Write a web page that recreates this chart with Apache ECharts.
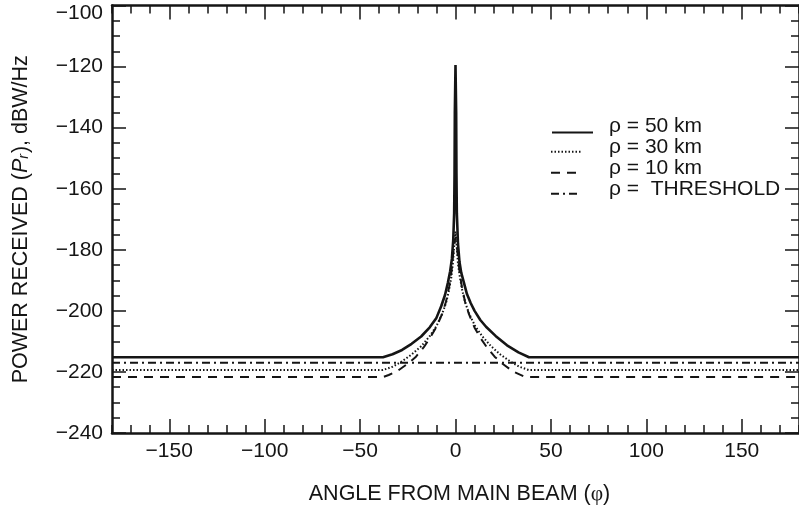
<!DOCTYPE html>
<html>
<head>
<meta charset="utf-8">
<script src="https://cdn.jsdelivr.net/npm/echarts@6/dist/echarts.min.js"></script>
<style>html,body{margin:0;padding:0;background:#fff;}#c{width:799px;height:510px;}</style>
</head>
<body>
<div id="c"></div>
<script>
// ---- data ----
const xTicksMajor = [-150, -100, -50, 0, 50, 100, 150];

const names = ['ρ = 50 km', 'ρ = 30 km', 'ρ = 10 km', 'ρ =  THRESHOLD'];

const angle50 = [-180, -38, -33, -28, -23, -18, -13.5, -10, -7.5, -5.5, -4, -2.8, -1.9, -1.2, -0.7, -0.5, -0.35, 0,
                 0.35, 0.5, 0.7, 1.3, 2.1, 3, 4.3, 6, 8, 10, 13, 16, 21, 27, 33, 38.5, 180];
const power50 = [-215.2, -215.2, -214.2, -212.8, -210.8, -208.4, -205.4, -202.3, -198.5, -194.8, -190.8, -187, -183, -177, -168, -155, -135, -119.5,
                 -135, -155, -168, -178, -184, -187.5, -190.5, -194.5, -197.5, -200, -203, -205.2, -208.2, -211.3, -213.6, -215.2, -215.2];

const angle30 = [-180, -38, -33, -28, -23, -18, -13.5, -10, -7, -5, -3.5, -2.2, -1.3, -0.6, 0,
                 0.6, 1.3, 2.3, 3.6, 5.2, 7.2, 10.3, 14, 18.5, 23.5, 28.5, 33.5, 38.5, 180];
const power30 = [-219.4, -219.4, -218.3, -216.5, -214.3, -211.6, -208.3, -205, -201, -197.5, -193.5, -189, -184, -178, -174,
                 -178.5, -184.5, -189, -193.5, -197.5, -201, -205, -208.3, -211.5, -214.3, -216.5, -218.3, -219.4, -219.4];

const angle10 = [-180, -38, -35, -30, -25, -21, -16.5, -13, -10, -7, -5, -3.3, -2, -1, 0,
                 1, 2, 3.3, 5, 7, 10, 13, 16.5, 20.5, 25, 30, 36, 38, 180];
const power10 = [-221.7, -221.7, -221, -219.5, -217.3, -215.2, -211.8, -208.5, -205.3, -201, -197, -192, -186.5, -180, -176,
                 -180.5, -186.5, -192, -197, -201, -205.5, -208.8, -212, -215, -217.5, -219.8, -221.5, -221.7, -221.7];

const angleThr = [-180, 180];
const powerThr = [-217, -217];

// ---- chart ----
const FONT = 'Liberation Sans, Arial, Helvetica, sans-serif';
const INK = '#151515';
const pairs = (xs, ys) => xs.map((x, i) => [x, ys[i]]);
const minus = v => String(v).replace('-', '\u2212');

const baseX = {
  type: 'value', min: -180, max: 180, gridIndex: 0,
  splitLine: { show: false },
  axisLine: { onZero: false, show: false }
};
const baseY = {
  type: 'value', min: -240, max: -100, interval: 20,
  splitLine: { show: false },
  axisLine: { onZero: false, show: true, lineStyle: { color: INK, width: 2.5 } },
  axisTick: { show: true, inside: true, length: 14, lineStyle: { color: INK, width: 1.5 } },
  minorTick: { show: true, splitNumber: 4, length: 8, lineStyle: { color: INK, width: 1.5 } }
};

const lineSeries = (name, data, width, type, z) => ({
  name, type: 'line', data, xAxisIndex: 0, yAxisIndex: 0,
  symbol: 'none', showSymbol: false, z,
  lineStyle: { color: INK, width, type },
  itemStyle: { color: INK },
  clip: true
});

const LEG_LH = 19.3;
const iconLegend = (data, left, top, width) => ({
  data, orient: 'vertical', left, top, padding: 0,
  itemWidth: width, itemHeight: 14, itemGap: 0, selectedMode: false,
  formatter: () => ' ',
  itemStyle: { color: 'rgba(0,0,0,0)', borderColor: 'rgba(0,0,0,0)', borderWidth: 0, opacity: 0 },
  textStyle: { fontSize: 21, lineHeight: LEG_LH, color: INK, fontFamily: FONT }
});

const chart = echarts.init(document.getElementById('c'), null, { renderer: 'canvas' });
chart.setOption({
  backgroundColor: '#fff',
  animation: false,
  textStyle: { fontFamily: FONT },
  grid: { left: 112, right: -4, top: 5.5, bottom: 74 },
  xAxis: [
    Object.assign({}, baseX, {
      position: 'bottom', interval: 10,
      axisLine: { onZero: false, show: true, lineStyle: { color: INK, width: 2.5 } },
      axisTick: { show: true, inside: true, length: 8, lineStyle: { color: INK, width: 1.5 } },
      axisLabel: { show: false }
    }),
    Object.assign({}, baseX, {
      position: 'bottom', interval: 10,
      axisTick: { show: true, inside: true, length: 14, customValues: xTicksMajor, lineStyle: { color: INK, width: 1.5 } },
      axisLabel: { show: true, customValues: xTicksMajor, fontSize: 21, color: INK, margin: 8, fontFamily: FONT, formatter: minus },
      name: 'ANGLE FROM MAIN BEAM ({p|φ})', nameLocation: 'middle', nameGap: 50,
      nameTextStyle: { fontSize: 21.5, color: INK, fontFamily: FONT, padding: [0, 0, 0, 8],
        rich: { p: { fontFamily: 'Liberation Serif, DejaVu Serif, serif', fontSize: 21.5, color: INK } } }
    }),
    Object.assign({}, baseX, {
      position: 'top', interval: 10,
      axisLine: { onZero: false, show: true, lineStyle: { color: INK, width: 2.5 } },
      axisTick: { show: true, inside: true, length: 8, lineStyle: { color: INK, width: 1.5 } },
      axisLabel: { show: false }
    }),
    Object.assign({}, baseX, {
      position: 'top', interval: 10,
      axisTick: { show: true, inside: true, length: 14, customValues: xTicksMajor, lineStyle: { color: INK, width: 1.5 } },
      axisLabel: { show: false }
    })
  ],
  yAxis: [
    Object.assign({}, baseY, {
      position: 'left',
      axisLabel: {
        show: true, fontSize: 21, color: INK, margin: 9, fontFamily: FONT,
        formatter: v => v === -100 ? '{t|' + minus(v) + '}' : minus(v),
        rich: { t: { fontSize: 21, color: INK, fontFamily: FONT, padding: [15, 0, 0, 0] } }
      },
      name: 'POWER RECEIVED ({i|P}{s|r}), dBW/Hz', nameLocation: 'middle', nameGap: 80,
      nameTextStyle: { fontSize: 21.5, color: INK, fontFamily: FONT,
        rich: {
          i: { fontStyle: 'italic', fontSize: 21.5, color: INK, fontFamily: FONT },
          s: { fontStyle: 'italic', fontSize: 14, color: INK, fontFamily: FONT, padding: [7, 1, 0, 0] }
        } }
    }),
    Object.assign({}, baseY, {
      position: 'right',
      axisLabel: { show: false }
    })
  ],
  legend: [
    iconLegend([names[0]], 551, 122, 41),
    iconLegend(names.slice(1), 550, 122 + LEG_LH, 30),
    {
      data: names, orient: 'vertical', left: 551, top: 115.4, padding: 0,
      itemWidth: 52, itemHeight: 14, itemGap: 0, selectedMode: false,
      itemStyle: { opacity: 0 }, lineStyle: { opacity: 0 },
      textStyle: { fontSize: 21, lineHeight: LEG_LH, color: INK, fontFamily: FONT }
    }
  ],
  series: [
    lineSeries(names[3], pairs(angleThr, powerThr), 2, [8, 4, 2, 4], 2),
    lineSeries(names[2], pairs(angle10, power10), 2, [9, 7], 3),
    lineSeries(names[1], pairs(angle30, power30), 2, [1.5, 2], 4),
    lineSeries(names[0], pairs(angle50, power50), 2.6, 'solid', 5)
  ]
});
</script>
</body>
</html>
